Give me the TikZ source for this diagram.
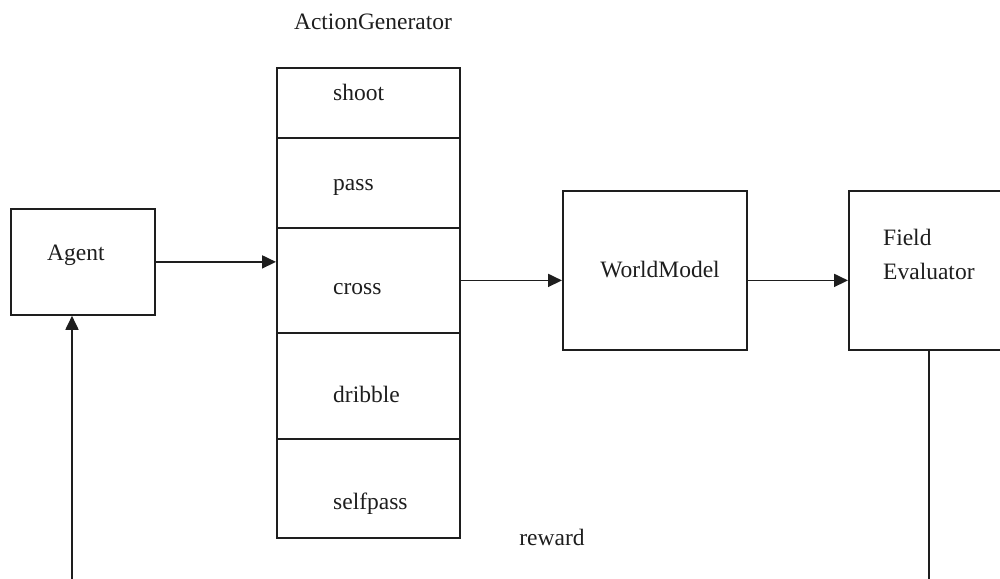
\documentclass[tikz,border=0pt]{standalone}
\usepackage{fontspec}
\setmainfont{Liberation Serif}
\usetikzlibrary{arrows.meta}
\definecolor{ink}{RGB}{30,30,30}
\begin{document}
\begin{tikzpicture}[x=1pt,y=-1pt,
  every node/.style={font=\fontsize{23.5}{28}\selectfont, text=ink},
  box/.style={draw=ink, line width=1.8pt, anchor=north west, inner sep=0pt},
  row/.style={box, minimum width=183pt, minimum height=#1},
  lbl/.style={inner sep=0pt, anchor=mid west},
  link/.style={draw=ink, line width=1.8pt},
  arr/.style={link, -{Triangle[length=14pt,width=13pt]}}]
\clip (0,0) rectangle (1000,578);
\fill[white] (0,0) rectangle (1000,578);

% agent block
\node[box, minimum width=144pt, minimum height=106pt] (agent) at (10,208) {};
\node[lbl] (agentT) at (47,258) {Agent};

% action generator: stacked rows
\node[lbl, anchor=mid] (agT) at (373,27) {ActionGenerator};
\node[row=70pt]  (shoot)    at (276,67)  {};
\node[row=90pt]  (pass)     at (276,137) {};
\node[row=105pt] (cross)    at (276,227) {};
\node[row=106pt] (dribble)  at (276,332) {};
\node[row=99pt]  (selfpass) at (276,438) {};
\node[lbl] (shootT)    at (333,98)  {shoot};
\node[lbl] (passT)     at (333,188) {pass};
\node[lbl] (crossT)    at (333,292) {cross};
\node[lbl] (dribbleT)  at (333,400) {dribble};
\node[lbl] (selfpassT) at (333,507) {selfpass};

% world model
\node[box, minimum width=184pt, minimum height=159pt] (wm) at (562,190) {};
\node[lbl, anchor=mid] (wmT) at (660,275) {WorldModel};

% field evaluator
\node[box, minimum width=184pt, minimum height=159pt] (fe) at (848,190) {};
\node[lbl] (feT1) at (883,243) {Field};
\node[lbl] (feT2) at (883,277) {Evaluator};

% reward label
\node[lbl, anchor=mid] (rewardT) at (552,543) {reward};

% connectors
\draw[arr] (agent.east) -- (agent.east -| cross.west);
\draw[arr] (cross.east) -- (cross.east -| wm.west);
\draw[arr] (wm.east |- cross.east) -- (fe.west |- cross.east);

% reward feedback loop
\coordinate (feFoot) at (929,590);
\coordinate (agFoot) at (72,590);
\draw[link] (fe.south -| feFoot) -- (feFoot);
\draw[arr] (agFoot) -- (agFoot |- agent.south);
\end{tikzpicture}
\end{document}
